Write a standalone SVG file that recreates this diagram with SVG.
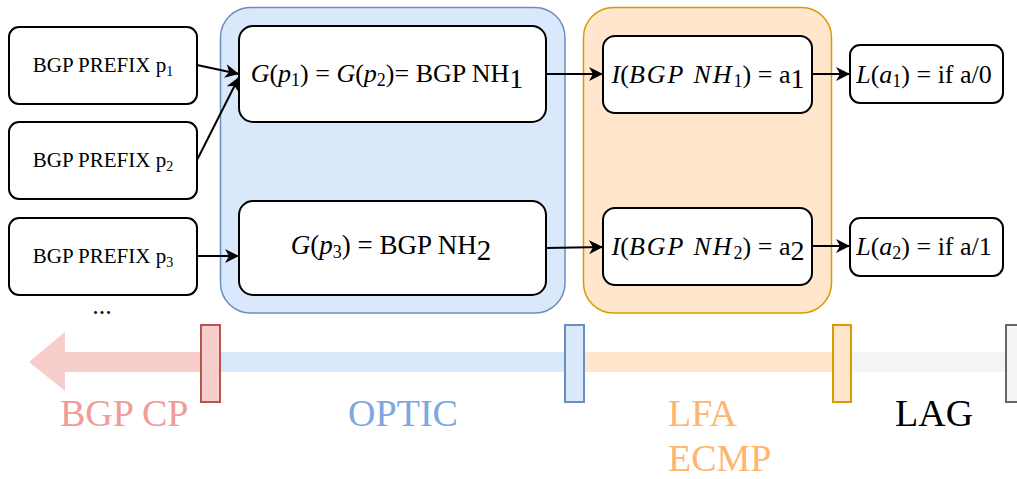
<svg xmlns="http://www.w3.org/2000/svg" width="1017" height="479" viewBox="0 0 1017 479">
<style>
.box{fill:#ffffff;stroke:#000000;stroke-width:2}
.t{font-family:"Liberation Serif","Times New Roman",serif;fill:#000000}
.m{font-style:italic}
.conn{fill:none;stroke:#000000;stroke-width:2}
.lbl{font-family:"Liberation Serif","Times New Roman",serif;font-size:38px}
</style>
<defs>
<marker id="ah" markerUnits="userSpaceOnUse" markerWidth="16" markerHeight="14" refX="14" refY="7" orient="auto">
<path d="M0,0 L14,7 L0,14 L4,7 Z" fill="#000000"/>
</marker>
</defs>

<g id="group-optic">
<rect x="220.5" y="7.5" width="344.5" height="305.5" rx="30" fill="#dae8fc" stroke="#6c8ebf" stroke-width="1.5"/>
</g>
<g id="group-lfa">
<rect x="583.5" y="7.5" width="248" height="305.5" rx="30" fill="#ffe6cc" stroke="#d79b00" stroke-width="1.5"/>
</g>

<g id="prefix1">
<rect class="box" x="9" y="27" width="188" height="77" rx="10"/>
<text class="t" x="103" y="72" font-size="21" text-anchor="middle">BGP PREFIX p<tspan font-size="14" dy="4">1</tspan></text>
</g>
<g id="prefix2">
<rect class="box" x="9" y="122" width="188" height="77" rx="10"/>
<text class="t" x="103" y="167" font-size="21" text-anchor="middle">BGP PREFIX p<tspan font-size="14" dy="4">2</tspan></text>
</g>
<g id="prefix3">
<rect class="box" x="9" y="218" width="188" height="77" rx="10"/>
<text class="t" x="103" y="263" font-size="21" text-anchor="middle">BGP PREFIX p<tspan font-size="14" dy="4">3</tspan></text>
</g>
<text class="t" x="102" y="314" font-size="26" text-anchor="middle">...</text>

<g id="g1">
<rect class="box" x="239" y="26" width="307" height="96" rx="14"/>
<text class="t" x="387" y="82" font-size="26" text-anchor="middle"><tspan class="m">G</tspan>(<tspan class="m">p</tspan><tspan font-size="18" dy="4">1</tspan><tspan dy="-4">) = </tspan><tspan class="m">G</tspan>(<tspan class="m">p</tspan><tspan font-size="18" dy="4">2</tspan><tspan dy="-4">)= BGP NH</tspan><tspan font-size="28" dy="6">1</tspan></text>
</g>
<g id="g2">
<rect class="box" x="239" y="201" width="307" height="94" rx="14"/>
<text class="t" x="391" y="254" font-size="27" text-anchor="middle"><tspan class="m">G</tspan>(<tspan class="m">p</tspan><tspan font-size="18" dy="4">3</tspan><tspan dy="-4">) = BGP NH</tspan><tspan font-size="29" dy="6">2</tspan></text>
</g>

<g id="i1">
<rect class="box" x="603" y="36" width="209" height="77" rx="12"/>
<text class="t" x="708" y="83" font-size="26" text-anchor="middle"><tspan class="m">I</tspan>(<tspan class="m" letter-spacing="2">BGP NH</tspan><tspan font-size="18" dy="4">1</tspan><tspan dy="-4">) = a</tspan><tspan font-size="28" dy="5">1</tspan></text>
</g>
<g id="i2">
<rect class="box" x="603" y="208" width="209" height="77" rx="12"/>
<text class="t" x="708" y="255" font-size="26" text-anchor="middle"><tspan class="m">I</tspan>(<tspan class="m" letter-spacing="2">BGP NH</tspan><tspan font-size="18" dy="4">2</tspan><tspan dy="-4">) = a</tspan><tspan font-size="28" dy="5">2</tspan></text>
</g>

<g id="l1">
<rect class="box" x="850" y="45" width="153" height="58" rx="10"/>
<text class="t" x="924" y="83" font-size="26" text-anchor="middle"><tspan class="m">L</tspan>(<tspan class="m">a</tspan><tspan font-size="18" dy="4">1</tspan><tspan dy="-4">)  = if a/0</tspan></text>
</g>
<g id="l2">
<rect class="box" x="850" y="218" width="153" height="58" rx="10"/>
<text class="t" x="924" y="255" font-size="26" text-anchor="middle"><tspan class="m">L</tspan>(<tspan class="m">a</tspan><tspan font-size="18" dy="4">2</tspan><tspan dy="-4">)  = if a/1</tspan></text>
</g>

<g id="connectors">
<line class="conn" x1="197" y1="65" x2="239" y2="74" marker-end="url(#ah)"/>
<line class="conn" x1="197" y1="160" x2="239" y2="77" marker-end="url(#ah)"/>
<line class="conn" x1="197" y1="256" x2="239" y2="256" marker-end="url(#ah)"/>
<line class="conn" x1="546" y1="74" x2="603" y2="74" marker-end="url(#ah)"/>
<line class="conn" x1="812" y1="74" x2="850" y2="74" marker-end="url(#ah)"/>
<line class="conn" x1="546" y1="248" x2="603" y2="247" marker-end="url(#ah)"/>
<line class="conn" x1="812" y1="246" x2="850" y2="246" stroke-width="3" marker-end="url(#ah)"/>
</g>

<g id="timeline">
<polygon points="29,362 65,332 65,352 201,352 201,372 65,372 65,391" fill="#f8cecc"/>
<rect x="220" y="352" width="345" height="20" fill="#dae8fc"/>
<rect x="584" y="352" width="249" height="20" fill="#ffe6cc"/>
<rect x="851" y="352" width="154" height="20" fill="#f5f5f5"/>
<rect x="201" y="325" width="19" height="77" fill="#f8cecc" stroke="#b85450" stroke-width="2"/>
<rect x="565" y="325" width="19" height="77" fill="#dae8fc" stroke="#6c8ebf" stroke-width="2"/>
<rect x="833" y="325" width="18" height="77" fill="#ffe6cc" stroke="#d79b00" stroke-width="2"/>
<rect x="1006" y="325" width="20" height="77" fill="#f5f5f5" stroke="#666666" stroke-width="2"/>
</g>

<g id="labels">
<text class="lbl" x="60" y="426" fill="#f19c99">BGP CP</text>
<text class="lbl" x="403" y="426" fill="#7ea6e0" text-anchor="middle">OPTIC</text>
<text class="lbl" x="668" y="426" fill="#ffb570">LFA</text>
<text class="lbl" x="668" y="471" fill="#ffb570">ECMP</text>
<text class="lbl" x="895" y="426" fill="#000000">LAG</text>
</g>
</svg>
